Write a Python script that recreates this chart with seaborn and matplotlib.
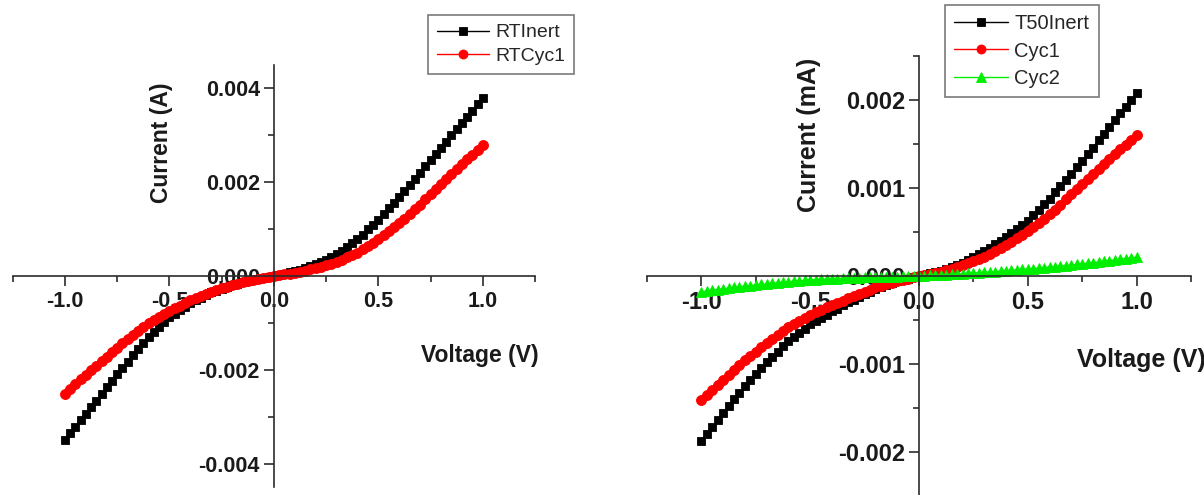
import numpy as np
import matplotlib
matplotlib.use("Agg")
import matplotlib.pyplot as plt
import seaborn as sns
from matplotlib.ticker import MultipleLocator, FormatStrFormatter

sns.set_style("ticks")
plt.rcParams["font.family"] = ["Liberation Sans", "DejaVu Sans"]
plt.rcParams["axes.unicode_minus"] = False

# Voltage sweep (V), shared by every I-V curve
voltage = [
    -1.000, -0.975, -0.950, -0.925, -0.900, -0.875, -0.850, -0.825, -0.800, -0.775,
    -0.750, -0.725, -0.700, -0.675, -0.650, -0.625, -0.600, -0.575, -0.550, -0.525,
    -0.500, -0.475, -0.450, -0.425, -0.400, -0.375, -0.350, -0.325, -0.300, -0.275,
    -0.250, -0.225, -0.200, -0.175, -0.150, -0.125, -0.100, -0.075, -0.050, -0.025,
    0.000,
    0.025, 0.050, 0.075, 0.100, 0.125, 0.150, 0.175, 0.200, 0.225, 0.250,
    0.275, 0.300, 0.325, 0.350, 0.375, 0.400, 0.425, 0.450, 0.475, 0.500,
    0.525, 0.550, 0.575, 0.600, 0.625, 0.650, 0.675, 0.700, 0.725, 0.750,
    0.775, 0.800, 0.825, 0.850, 0.875, 0.900, 0.925, 0.950, 0.975, 1.000,
]

# Room-temperature device, current in units of 1e-3 A
rt_inert = [
    -3.49, -3.35, -3.21, -3.07, -2.93, -2.79, -2.65, -2.51, -2.37, -2.23,
    -2.09, -1.96, -1.82, -1.69, -1.56, -1.43, -1.30, -1.19, -1.09, -0.98,
    -0.88, -0.80, -0.73, -0.65, -0.58, -0.52, -0.46, -0.41, -0.35, -0.31,
    -0.27, -0.23, -0.19, -0.16, -0.135, -0.11, -0.08, -0.06, -0.04, -0.02,
    0.0,
    0.025, 0.05, 0.075, 0.10, 0.135, 0.17, 0.21, 0.25, 0.30, 0.35,
    0.405, 0.46, 0.54, 0.62, 0.70, 0.78, 0.88, 0.99, 1.09, 1.20,
    1.32, 1.44, 1.56, 1.68, 1.81, 1.94, 2.07, 2.20, 2.33, 2.46,
    2.59, 2.72, 2.85, 2.99, 3.12, 3.25, 3.38, 3.52, 3.65, 3.78,
]
rt_cyc1 = [
    -2.50, -2.40, -2.30, -2.20, -2.10, -2.00, -1.91, -1.81, -1.72, -1.62,
    -1.53, -1.43, -1.34, -1.26, -1.17, -1.09, -1.01, -0.94, -0.87, -0.81,
    -0.74, -0.68, -0.63, -0.57, -0.52, -0.47, -0.43, -0.38, -0.34, -0.30,
    -0.265, -0.23, -0.19, -0.16, -0.135, -0.11, -0.08, -0.06, -0.04, -0.02,
    0.0,
    0.017, 0.035, 0.052, 0.07, 0.09, 0.115, 0.14, 0.16, 0.195, 0.23,
    0.265, 0.30, 0.35, 0.40, 0.45, 0.50, 0.57, 0.64, 0.71, 0.78,
    0.865, 0.95, 1.035, 1.12, 1.22, 1.32, 1.42, 1.52, 1.63, 1.74,
    1.85, 1.96, 2.065, 2.17, 2.275, 2.38, 2.48, 2.585, 2.69, 2.79,
]

# 50 C device, current in units of 1e-3
t50_inert = [
    -1.88, -1.80, -1.72, -1.64, -1.56, -1.48, -1.40, -1.33, -1.25, -1.18,
    -1.11, -1.05, -0.98, -0.92, -0.86, -0.80, -0.74, -0.69, -0.645, -0.60,
    -0.55, -0.51, -0.475, -0.44, -0.40, -0.37, -0.335, -0.30, -0.27, -0.24,
    -0.21, -0.18, -0.15, -0.13, -0.105, -0.08, -0.06, -0.045, -0.03, -0.015,
    0.0,
    0.015, 0.03, 0.045, 0.06, 0.08, 0.105, 0.13, 0.15, 0.18, 0.215,
    0.25, 0.28, 0.32, 0.36, 0.40, 0.44, 0.485, 0.535, 0.58, 0.63,
    0.69, 0.755, 0.815, 0.88, 0.95, 1.02, 1.09, 1.16, 1.235, 1.31,
    1.385, 1.46, 1.54, 1.615, 1.69, 1.77, 1.85, 1.925, 2.00, 2.08,
]
cyc1 = [
    -1.41, -1.35, -1.295, -1.235, -1.18, -1.125, -1.07, -1.015, -0.96, -0.91,
    -0.86, -0.81, -0.76, -0.715, -0.67, -0.625, -0.58, -0.545, -0.51, -0.475,
    -0.44, -0.41, -0.385, -0.355, -0.33, -0.305, -0.28, -0.255, -0.23, -0.205,
    -0.18, -0.155, -0.13, -0.11, -0.095, -0.075, -0.06, -0.045, -0.03, -0.015,
    0.0,
    0.012, 0.025, 0.037, 0.05, 0.067, 0.085, 0.10, 0.12, 0.145, 0.17,
    0.195, 0.22, 0.25, 0.285, 0.315, 0.35, 0.39, 0.43, 0.47, 0.51,
    0.555, 0.605, 0.65, 0.70, 0.755, 0.81, 0.87, 0.93, 0.99, 1.045,
    1.10, 1.16, 1.215, 1.27, 1.33, 1.385, 1.44, 1.49, 1.545, 1.60,
]
cyc2 = [
    -0.180, -0.171, -0.162, -0.154, -0.145, -0.137, -0.130, -0.122, -0.115, -0.109,
    -0.102, -0.096, -0.090, -0.084, -0.077, -0.071, -0.065, -0.060, -0.055, -0.050,
    -0.045, -0.042, -0.038, -0.035, -0.032, -0.029, -0.027, -0.024, -0.022, -0.020,
    -0.017, -0.015, -0.013, -0.011, -0.010, -0.008, -0.006, -0.005, -0.003, -0.002,
    0.000,
    0.003, 0.006, 0.009, 0.012, 0.015, 0.018, 0.022, 0.025, 0.029, 0.033,
    0.038, 0.042, 0.046, 0.051, 0.055, 0.060, 0.065, 0.070, 0.075, 0.080,
    0.085, 0.090, 0.095, 0.100, 0.106, 0.112, 0.119, 0.125, 0.132, 0.138,
    0.145, 0.152, 0.160, 0.167, 0.175, 0.182, 0.190, 0.198, 0.207, 0.215,
]

for series in (rt_inert, rt_cyc1, t50_inert, cyc1, cyc2):
    assert len(series) == len(voltage)

SCALE = 1e-3
V = np.array(voltage)

AXIS_COLOR = "#2b2b2b"
BLACK, RED, GREEN = "black", "#ff0000", "#00ee00"

fig = plt.figure(figsize=(12.04, 4.95), dpi=100)
ax_l = fig.add_axes([12.75 / 1204, 7.5 / 495, 522.25 / 1204, 423 / 495])
ax_r = fig.add_axes([647 / 1204, -1 / 495, 544 / 1204, 440 / 495])


def draw(ax, y, color, marker, ms, label):
    sns.lineplot(x=V, y=np.array(y) * SCALE, ax=ax, color=color, marker=marker,
                 markersize=ms, markeredgecolor=color, markeredgewidth=0.6,
                 linewidth=1.0, label=label, sort=False, estimator=None)


def style(ax, ylim, ymajor, yminor, fs, ylabel, ylab_xy, xlab_xy):
    ax.set_xlim(-1.25, 1.25)
    ax.set_ylim(*ylim)
    for side in ("top", "right"):
        ax.spines[side].set_visible(False)
    for side in ("left", "bottom"):
        ax.spines[side].set_position(("data", 0))
        ax.spines[side].set_color(AXIS_COLOR)
        ax.spines[side].set_linewidth(1.2)
    ax.xaxis.set_major_locator(MultipleLocator(0.5))
    ax.xaxis.set_minor_locator(MultipleLocator(0.25))
    ax.yaxis.set_major_locator(MultipleLocator(ymajor))
    ax.yaxis.set_minor_locator(MultipleLocator(yminor))
    ax.xaxis.set_major_formatter(FormatStrFormatter("%.1f"))
    ax.yaxis.set_major_formatter(FormatStrFormatter("%.3f"))
    ax.tick_params(which="major", direction="out", length=7, width=1.2,
                   color=AXIS_COLOR, labelsize=fs, labelcolor="#1a1a1a")
    ax.tick_params(which="minor", direction="out", length=4, width=1.2,
                   color=AXIS_COLOR)
    ax.tick_params(axis="x", which="major", pad=4)
    ax.tick_params(axis="y", which="major", pad=3)
    for lab in ax.get_xticklabels() + ax.get_yticklabels():
        lab.set_fontweight("bold")
    ax.set_xlabel("Voltage (V)", fontsize=fs + 1, fontweight="bold", color="#1a1a1a")
    ax.set_ylabel(ylabel, fontsize=fs + 1, fontweight="bold", color="#1a1a1a")
    ax.xaxis.set_label_coords(*xlab_xy)
    ax.yaxis.set_label_coords(*ylab_xy)
    ax.xaxis.label.set_va("center")
    ax.yaxis.label.set_va("center")
    ax.set_facecolor("none")


draw(ax_l, rt_inert, BLACK, "s", 6.4, "RTInert")
draw(ax_l, rt_cyc1, RED, "o", 7.2, "RTCyc1")
style(ax_l, (-0.0045, 0.0045), 0.002, 0.001, 15.5, "Current (A)",
      (0.284, 0.814), (0.895, 0.313))

draw(ax_r, t50_inert, BLACK, "s", 6.4, "T50Inert")
draw(ax_r, cyc1, RED, "o", 7.2, "Cyc1")
draw(ax_r, cyc2, GREEN, "^", 7.6, "Cyc2")
style(ax_r, (-0.0025, 0.0025), 0.001, 0.0005, 17, "Current (mA)",
      (0.298, 0.820), (0.908, 0.309))


def legend(ax, anchor, fs, spacing, marker_sizes):
    leg = ax.legend(loc="upper left", bbox_to_anchor=anchor,
                    bbox_transform=fig.transFigure, borderaxespad=0,
                    fontsize=fs, frameon=True, fancybox=False, framealpha=1,
                    edgecolor="#7a7a7a", handlelength=2.7, handletextpad=0.3,
                    labelspacing=spacing, borderpad=0.45)
    leg.get_frame().set_linewidth(1.2)
    for handle, ms in zip(leg.legend_handles, marker_sizes):
        handle.set_markersize(ms)
        handle.set_linewidth(1.0)
    return leg


legend(ax_l, (428 / 1204, 1 - 15 / 495), 14, 0.3, (5.2, 6.5))
legend(ax_r, (945 / 1204, 1 - 5 / 495), 14.5, 0.42, (5.2, 6.5, 6.8))

fig.savefig("out.png", dpi=100, facecolor="white")
